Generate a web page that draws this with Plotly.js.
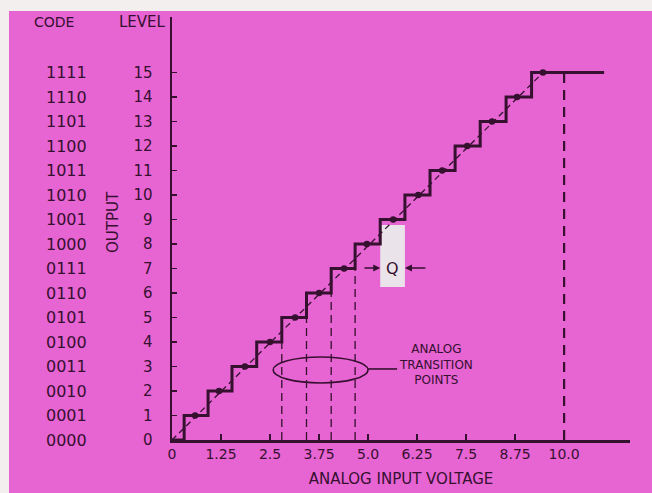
<!DOCTYPE html>
<html>
<head>
<meta charset="utf-8">
<script src="https://cdn.plot.ly/plotly-3.0.1.min.js"></script>
<style>html,body{margin:0;padding:0;background:#fff;}#chart{width:652px;height:493px;}</style>
</head>
<body>
<div id="chart"></div>
<script>
// ---- data ----
const codes = ['0000','0001','0010','0011','0100','0101','0110','0111','1000','1001','1010','1011','1100','1101','1110','1111'];
const levels = [0,1,2,3,4,5,6,7,8,9,10,11,12,13,14,15];
const levelLabels = ['0','1','2','3','4','5','6','7','8','9','10','11','12','13','14','15'];
const xTickVals = [0,1.25,2.5,3.75,5,6.25,7.5,8.75,10];
const xTickText = ['0','1.25','2.5','3.75','5.0','6.25','7.5','8.75','10.0'];
// input voltages where the output steps up to level 1..15
const stepX = [0.31,0.92,1.53,2.16,2.80,3.43,4.06,4.67,5.31,5.94,6.58,7.22,7.86,8.52,9.17];
const stepLevels = [1,2,3,4,5,6,7,8,9,10,11,12,13,14,15];
const stepEndX = 11.02;
// ideal-line points (dots) for level 1..15
const dotX = [0.59,1.20,1.86,2.50,3.14,3.75,4.39,4.97,5.64,6.28,6.89,7.53,8.16,8.80,9.46];
// highlighted analog transition points
const transX = [2.80,3.43,4.06,4.67];
const transTop = [4,5,6,7];
const fullScaleX = 10.0;
const fullScaleLevel = 15;
// Q bracket
const qBox = {x0:5.31, x1:5.94, y0:6.25, y1:8.78};
const qArrowY = 7.02;

const ink = '#36102f';
const pink = '#E764D3';
const font = 'DejaVu Sans, Arial, sans-serif';

// staircase
const sx = [0].concat(stepX, [stepEndX]);
const sy = [0].concat(stepLevels, [15]);

// transition dashed lines
const tx = [], ty = [];
transX.forEach((x,i)=>{ tx.push(x,x,null); ty.push(0,transTop[i],null); });

const traces = [
  {x:[0, dotX[dotX.length-1]], y:[0, fullScaleLevel], mode:'lines', line:{color:ink, width:1.3, dash:'6px,4px'}, hoverinfo:'skip'},
  {x:tx, y:ty, mode:'lines', line:{color:ink, width:1.3, dash:'8px,5px'}, hoverinfo:'skip'},
  {x:[fullScaleX, fullScaleX], y:[0, fullScaleLevel], mode:'lines', line:{color:ink, width:2.2, dash:'10px,7px'}, hoverinfo:'skip'},
  {x:sx, y:sy, mode:'lines', line:{color:ink, width:3, shape:'hv'}, hoverinfo:'skip'},
  {x:dotX, y:stepLevels, mode:'markers', marker:{color:ink, size:6.5}, hoverinfo:'skip'}
];

const annotations = [];
codes.forEach((c,i)=>{
  annotations.push({xref:'paper', yref:'y', x:(66-172)/458, y:levels[i], text:c, showarrow:false, xanchor:'center', yanchor:'middle', font:{family:font, size:16, color:ink}});
});
annotations.push({xref:'paper', yref:'paper', x:(54-172)/458, y:(440-22)/423, text:'CODE', showarrow:false, xanchor:'center', yanchor:'middle', font:{family:font, size:14, color:ink}});
annotations.push({xref:'paper', yref:'paper', x:(142-172)/458, y:(440-22)/423, text:'LEVEL', showarrow:false, xanchor:'center', yanchor:'middle', font:{family:font, size:15, color:ink}});
annotations.push({xref:'paper', yref:'y', x:(113-172)/458, y:8.9, text:'OUTPUT', textangle:-90, showarrow:false, xanchor:'center', yanchor:'middle', font:{family:font, size:15, color:ink}});
annotations.push({xref:'x', yref:'y', x:6.72, y:3.1, text:'ANALOG<br>TRANSITION<br>POINTS', showarrow:false, xanchor:'center', yanchor:'middle', align:'center', font:{family:font, size:12, color:ink}});
annotations.push({xref:'x', yref:'y', x:(qBox.x0+qBox.x1)/2, y:qArrowY, text:'Q', showarrow:false, xanchor:'center', yanchor:'middle', font:{family:font, size:16, color:ink}});
annotations.push({xref:'x', yref:'y', x:qBox.x0, y:qArrowY, axref:'x', ayref:'y', ax:4.87, ay:qArrowY, text:'', showarrow:true, arrowhead:2, arrowsize:1, arrowwidth:1.4, arrowcolor:ink});
annotations.push({xref:'x', yref:'y', x:qBox.x1, y:qArrowY, axref:'x', ayref:'y', ax:6.5, ay:qArrowY, text:'', showarrow:true, arrowhead:2, arrowsize:1, arrowwidth:1.4, arrowcolor:ink});

const shapes = [
  // white scan borders
  {type:'rect', xref:'paper', yref:'paper', x0:-172/458-0.1, x1:480/458+0.1, y0:(440-11)/423, y1:1.3, fillcolor:'#f3efee', line:{width:0}, layer:'below'},
  {type:'rect', xref:'paper', yref:'paper', x0:-172/458-0.1, x1:(9-172)/458, y0:-0.3, y1:1.3, fillcolor:'#f3efee', line:{width:0}, layer:'below'},
  // Q box
  {type:'rect', xref:'x', yref:'y', x0:qBox.x0, x1:qBox.x1, y0:qBox.y0, y1:qBox.y1, fillcolor:'#ebe3ea', line:{width:0}, layer:'below'},
  // ellipse around transition points
  {type:'circle', xref:'x', yref:'y', x0:2.58, x1:5.0, y0:2.33, y1:3.39, line:{color:ink, width:1.6}},
  {type:'line', xref:'x', yref:'y', x0:5.0, x1:5.74, y0:2.9, y1:2.9, line:{color:ink, width:1.6}}
];

const layout = {
  width:652, height:493, autosize:false,
  margin:{l:172, r:22, t:17, b:53, pad:0},
  paper_bgcolor:pink, plot_bgcolor:'rgba(0,0,0,0)',
  showlegend:false,
  font:{family:font, color:ink, size:14},
  xaxis:{range:[0,11.68], showgrid:false, zeroline:false, showline:true, linecolor:ink, linewidth:2.5,
         ticks:'inside', ticklen:6, tickwidth:1.5, tickcolor:ink, tickvals:xTickVals, ticktext:xTickText,
         tickfont:{family:font, size:14, color:ink}, fixedrange:true,
         title:{text:'ANALOG INPUT VOLTAGE', font:{family:font, size:15, color:ink}, standoff:12}},
  yaxis:{range:[0,17.27], showgrid:false, zeroline:false, showline:true, linecolor:ink, linewidth:2.5,
         ticks:'inside', ticklen:5, tickwidth:1.5, tickcolor:ink, tickvals:levels, ticktext:levelLabels,
         tickfont:{family:font, size:15, color:ink}, ticklabelstandoff:14, fixedrange:true},
  shapes:shapes,
  annotations:annotations
};

Plotly.newPlot('chart', traces, layout, {staticPlot:true, displayModeBar:false});
</script>
</body>
</html>
